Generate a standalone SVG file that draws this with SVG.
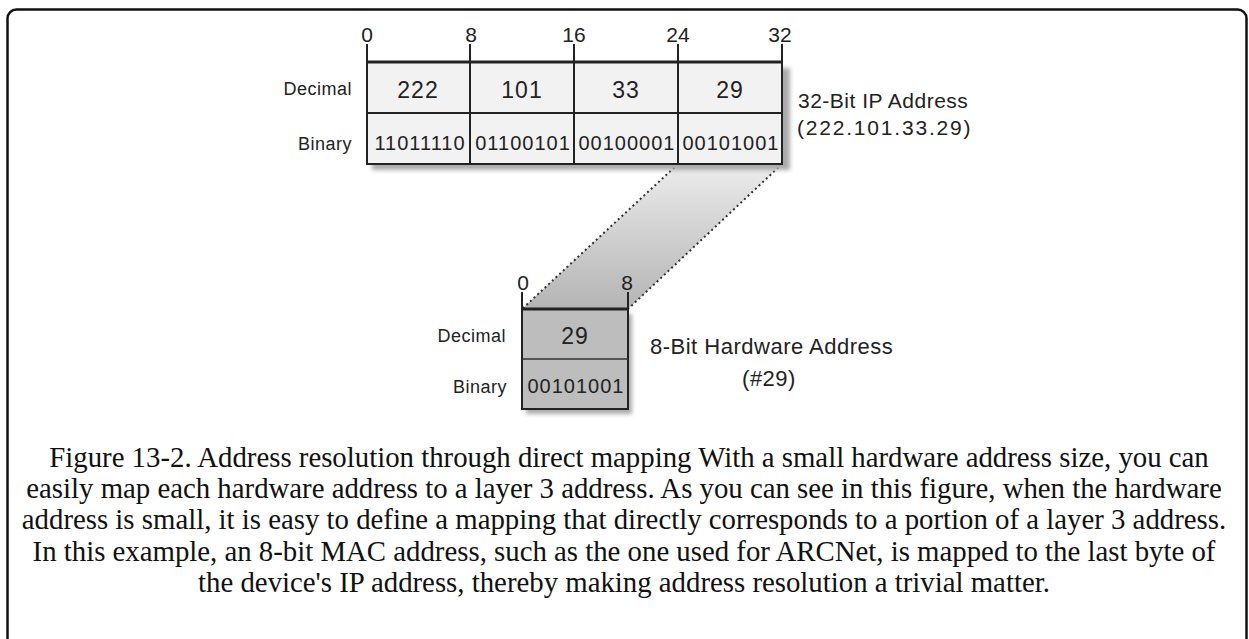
<svg xmlns="http://www.w3.org/2000/svg" width="1249" height="639" viewBox="0 0 1249 639">
<defs>
<linearGradient id="band" x1="0" y1="0" x2="0" y2="1">
<stop offset="0" stop-color="#ececec"/>
<stop offset="1" stop-color="#b4b4b4"/>
</linearGradient>
<filter id="blur" x="-10%" y="-10%" width="120%" height="130%"><feGaussianBlur stdDeviation="2"/></filter>
</defs>
<style>
.d{font-family:"Liberation Sans",Arial,sans-serif;fill:#222}
.lab{font-size:18px;text-anchor:end;letter-spacing:0.5px}
.num{font-size:21px;text-anchor:middle}
.val{font-size:23px;text-anchor:middle;letter-spacing:1px}
.bin{font-size:20px;text-anchor:middle;letter-spacing:1px}
.ttl{font-size:21px;letter-spacing:0.5px}
.cap{font-family:"Liberation Serif","Times New Roman",serif;font-size:28.8px;text-anchor:middle;fill:#111}
.box{stroke:#222;stroke-width:2}
.tick{stroke:#222;stroke-width:2}
.dot{stroke:#333;stroke-width:2;stroke-dasharray:2 3;fill:none}
</style>
<rect x="7.5" y="9.5" width="1239" height="700" rx="9" fill="#fff" stroke="#111" stroke-width="2.5"/>

<g id="connectors">
<polygon points="678,164 782,164 628,309 522,309" fill="url(#band)"/>
<line class="dot" x1="678" y1="164" x2="522" y2="309"/>
<line class="dot" x1="782" y1="164" x2="628" y2="309"/>
</g>

<g id="ip-address">
<rect x="372" y="68" width="418" height="102" fill="#aaa" filter="url(#blur)"/>
<rect class="box" x="367" y="62" width="415" height="102" fill="#f2f2f2"/>
<line x1="367" y1="62" x2="782" y2="62" stroke="#222" stroke-width="3"/>
<line class="box" x1="367" y1="113" x2="782" y2="113"/>
<line class="box" x1="470" y1="62" x2="470" y2="164"/>
<line class="box" x1="574" y1="62" x2="574" y2="164"/>
<line class="box" x1="678" y1="62" x2="678" y2="164"/>
<line class="tick" x1="367" y1="44" x2="367" y2="62"/>
<line class="tick" x1="470" y1="44" x2="470" y2="62"/>
<line class="tick" x1="574" y1="44" x2="574" y2="62"/>
<line class="tick" x1="678" y1="44" x2="678" y2="62"/>
<line class="tick" x1="782" y1="44" x2="782" y2="62"/>
<text class="d num" x="367" y="42">0</text>
<text class="d num" x="471" y="42">8</text>
<text class="d num" x="574" y="42">16</text>
<text class="d num" x="678" y="42">24</text>
<text class="d num" x="780" y="42">32</text>
<text class="d lab" x="352" y="95">Decimal</text>
<text class="d lab" x="352" y="150">Binary</text>
<text class="d val" x="418" y="98">222</text>
<text class="d val" x="522" y="98">101</text>
<text class="d val" x="626" y="98">33</text>
<text class="d val" x="730" y="98">29</text>
<text class="d bin" x="420" y="150">11011110</text>
<text class="d bin" x="523" y="150">01100101</text>
<text class="d bin" x="627" y="150">00100001</text>
<text class="d bin" x="731" y="150">00101001</text>
<text class="d ttl" x="798" y="108">32-Bit IP Address</text>
<text class="d ttl" x="797" y="135" style="letter-spacing:1.8px">(222.101.33.29)</text>
</g>

<g id="hw-address">
<rect x="526" y="314" width="106" height="100" fill="#aaa" filter="url(#blur)"/>
<rect class="box" x="522" y="309" width="106" height="100" fill="#bdbdbd"/>
<line x1="522" y1="309" x2="628" y2="309" stroke="#222" stroke-width="3"/>
<line x1="522" y1="359" x2="628" y2="359" stroke="#333" stroke-width="1.5"/>
<line class="tick" x1="522" y1="292" x2="522" y2="309"/>
<line class="tick" x1="628" y1="292" x2="628" y2="309"/>
<text class="d num" x="523" y="290">0</text>
<text class="d num" x="627" y="290">8</text>
<text class="d lab" x="506" y="342">Decimal</text>
<text class="d lab" x="507" y="393">Binary</text>
<text class="d val" x="575" y="344">29</text>
<text class="d bin" x="576" y="393">00101001</text>
<text class="d ttl" x="650" y="354" style="font-size:22px">8-Bit Hardware Address</text>
<text class="d ttl" x="769" y="386" text-anchor="middle" style="font-size:22px">(#29)</text>
</g>

<g id="caption">
<text class="cap" x="629" y="467">Figure 13-2. Address resolution through direct mapping With a small hardware address size, you can</text>
<text class="cap" x="624" y="498">easily map each hardware address to a layer 3 address. As you can see in this figure, when the hardware</text>
<text class="cap" x="624" y="529">address is small, it is easy to define a mapping that directly corresponds to a portion of a layer 3 address.</text>
<text class="cap" x="624" y="561">In this example, an 8-bit MAC address, such as the one used for ARCNet, is mapped to the last byte of</text>
<text class="cap" x="624" y="592">the device's IP address, thereby making address resolution a trivial matter.</text>
</g>
</svg>
